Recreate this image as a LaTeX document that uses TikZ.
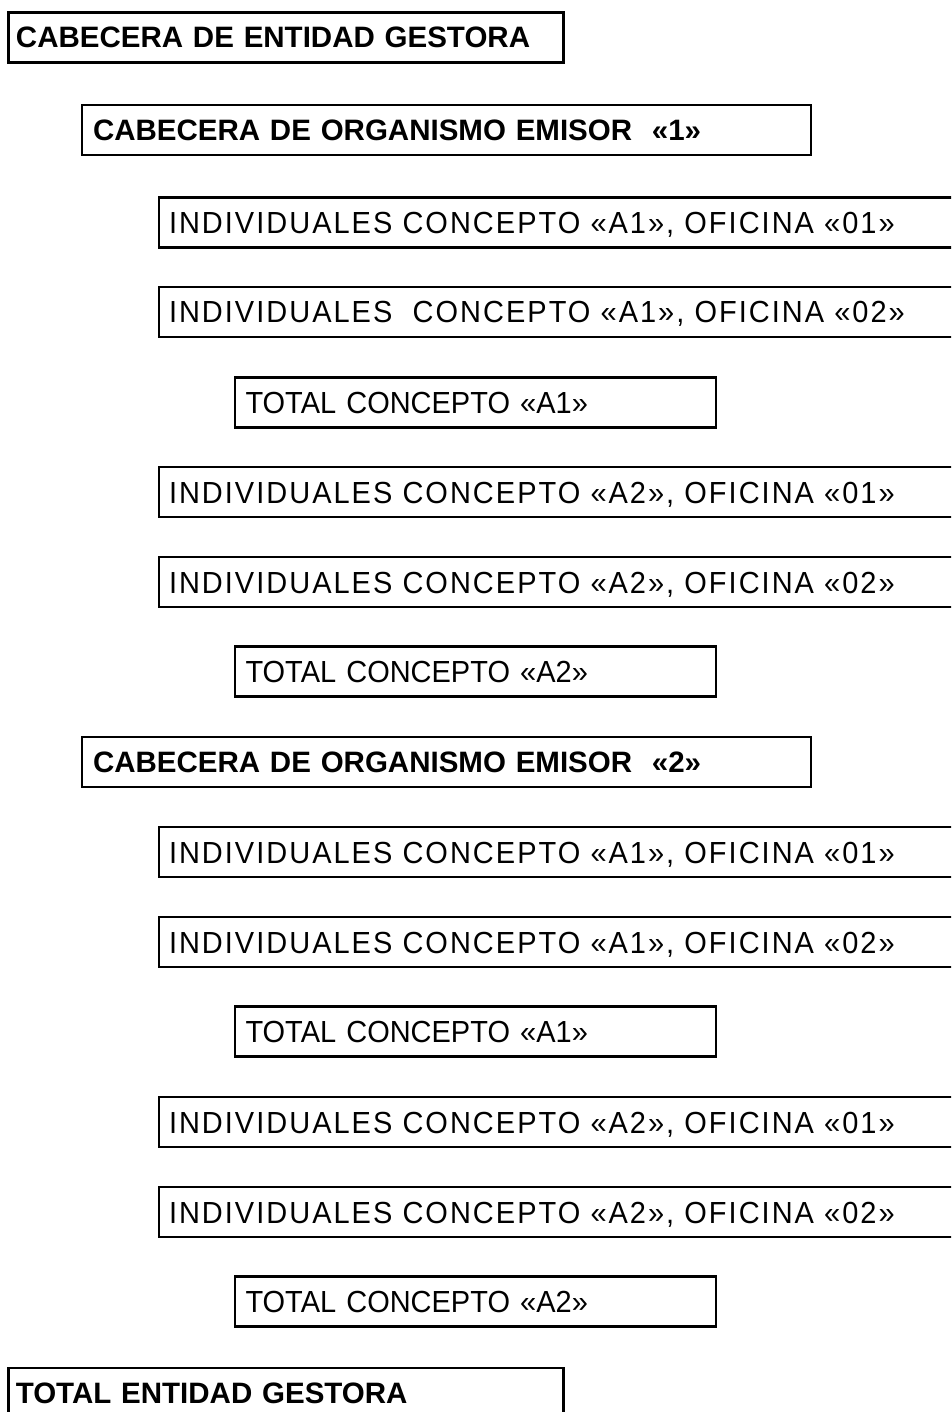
\documentclass[tikz,border=0pt]{standalone}
\usepackage{fontspec}
\setmainfont{Liberation Sans}
\newfontfamily\regfont[FakeStretch=0.95]{Liberation Sans}
\newfontfamily\spacedfont[FakeStretch=0.95,LetterSpace=6.6]{Liberation Sans}
\begin{document}
\begin{tikzpicture}[x=1pt,y=-1pt,
  box/.style={draw, line width=2.7pt, outer sep=0pt, anchor=north west,
    minimum height=50pt, inner ysep=0pt, text height=22pt, text depth=0pt,
    align=left, font=\fontsize{30.5}{34}\selectfont\regfont},
  head/.style={box, text height=21pt, font=\fontsize{29.5}{34}\selectfont\bfseries},
  headA/.style={head, inner xsep=7.5pt, minimum width=555pt, text width=540pt},
  headB/.style={head, inner xsep=11pt, minimum width=729pt, text width=707pt},
  indiv/.style={box, font=\fontsize{30.5}{34}\selectfont\spacedfont,
    inner xsep=10pt, minimum width=806pt, text width=786pt},
  total/.style={box, inner xsep=10.5pt, minimum width=481pt, text width=460pt}]
\clip (0,0) rectangle (951,1412);
\node[headA] (eg) at (8.5,12.5) {CABECERA DE ENTIDAD GESTORA};
\node[headB] (org1) at (82,105) {CABECERA DE ORGANISMO EMISOR\ \ «1»};
\node[indiv] (r1a) at (159,197.5) {INDIVIDUALES CONCEPTO «A1», OFICINA «01»};
\node[indiv] (r1b) at (159,287) {INDIVIDUALES\ \ CONCEPTO «A1», OFICINA «02»};
\node[total] (t1a) at (235,377.5) {TOTAL CONCEPTO «A1»};
\node[indiv] (r1c) at (159,467) {INDIVIDUALES CONCEPTO «A2», OFICINA «01»};
\node[indiv] (r1d) at (159,557) {INDIVIDUALES CONCEPTO «A2», OFICINA «02»};
\node[total] (t1b) at (235,646.5) {TOTAL CONCEPTO «A2»};
\node[headB] (org2) at (82,737) {CABECERA DE ORGANISMO EMISOR\ \ «2»};
\node[indiv] (r2a) at (159,827) {INDIVIDUALES CONCEPTO «A1», OFICINA «01»};
\node[indiv] (r2b) at (159,917) {INDIVIDUALES CONCEPTO «A1», OFICINA «02»};
\node[total] (t2a) at (235,1006.5) {TOTAL CONCEPTO «A1»};
\node[indiv] (r2c) at (159,1097) {INDIVIDUALES CONCEPTO «A2», OFICINA «01»};
\node[indiv] (r2d) at (159,1187) {INDIVIDUALES CONCEPTO «A2», OFICINA «02»};
\node[total] (t2b) at (235,1276.5) {TOTAL CONCEPTO «A2»};
\node[headA] (te) at (8.3,1368) {TOTAL ENTIDAD GESTORA};
\end{tikzpicture}
\end{document}
